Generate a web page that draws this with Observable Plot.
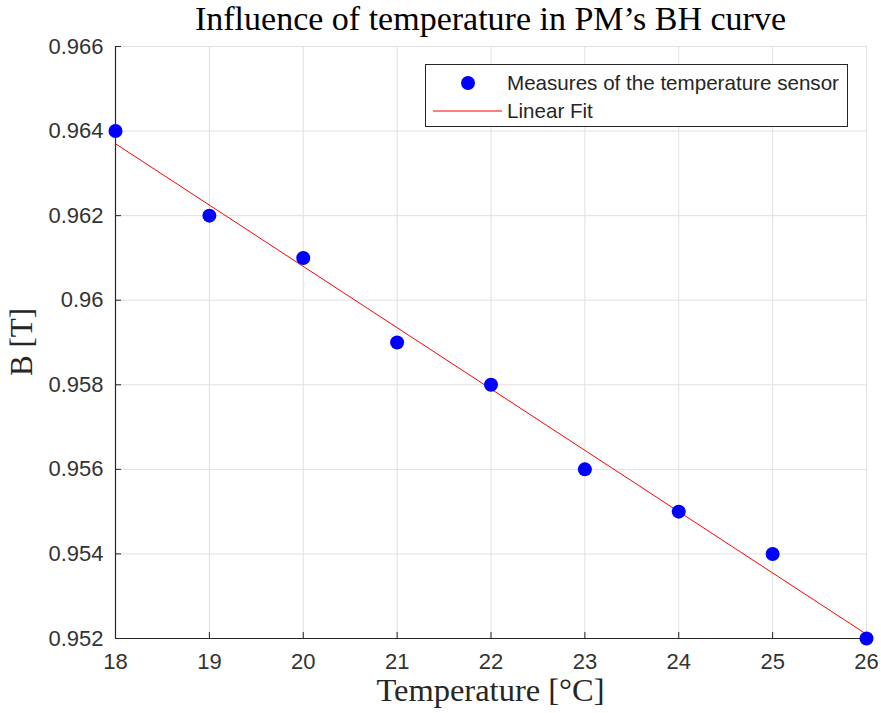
<!DOCTYPE html>
<html><head><meta charset="utf-8">
<script src="https://cdn.jsdelivr.net/npm/d3@7"></script>
<script src="https://cdn.jsdelivr.net/npm/@observablehq/plot@0.6"></script>
<style>
body{margin:0;background:#fff;}
#wrap{position:relative;width:881px;height:713px;overflow:hidden;background:#fff}
#wrap svg.chart{position:absolute;left:0;top:0;overflow:visible}
.title{position:absolute;left:115px;width:751px;top:0px;text-align:center;font-family:"Liberation Serif",serif;font-size:34px;line-height:38px;color:#000;white-space:nowrap}
.xlabel{position:absolute;left:115px;width:751px;top:670px;text-align:center;font-family:"Liberation Serif",serif;font-size:32.5px;line-height:40px;color:#262626;white-space:nowrap}
.ylabel{position:absolute;left:22px;top:342px;transform:translate(-50%,-50%) rotate(-90deg);font-family:"Liberation Serif",serif;font-size:31px;line-height:36px;color:#262626;white-space:nowrap}
.legend{position:absolute;left:425px;top:64px;width:421px;height:61px;border:1px solid #262626;background:#fff;font-family:"Liberation Sans",Arial,sans-serif;font-size:20.6px;color:#262626}
.legend .row{position:absolute;left:0;height:28px;width:100%}
.legend svg{position:absolute;left:0;top:0}
.legend span{position:absolute;left:81px;top:2px;line-height:24px;white-space:nowrap}
</style>
</head><body>
<div id="wrap">
  <div class="title" id="title"></div>
  <div class="xlabel" id="xlabel"></div>
  <div class="ylabel" id="ylabel"></div>
</div>
<script>
// ---- data ----
const temperatures = [18, 19, 20, 21, 22, 23, 24, 25, 26];
const fluxDensity = [0.964, 0.962, 0.961, 0.959, 0.958, 0.956, 0.955, 0.954, 0.952];
const fitTemperatures = [18, 26];
const fitFluxDensity = [0.96370, 0.95210];
const xTicks = [18, 19, 20, 21, 22, 23, 24, 25, 26];
const yTicks = [0.952, 0.954, 0.956, 0.958, 0.96, 0.962, 0.964, 0.966];
const titleText = "Influence of temperature in PM’s BH curve";
const xLabelText = "Temperature [°C]";
const yLabelText = "B [T]";
const seriesNames = ["Measures of the temperature sensor", "Linear Fit"];

const points = temperatures.map((t, i) => ({t, b: fluxDensity[i]}));
const fit = fitTemperatures.map((t, i) => ({t, b: fitFluxDensity[i]}));

const W = 881, H = 713, mL = 115, mR = 15, mT = 46, mB = 75;
const innerW = W - mL - mR, innerH = H - mT - mB;
const axisColor = "#262626", gridColor = "#e0e0e0";

const chart = Plot.plot({
  width: W, height: H,
  marginLeft: mL, marginRight: mR, marginTop: mT, marginBottom: mB,
  style: {fontFamily: "'Liberation Sans', Arial, sans-serif", fontSize: "22px", color: axisColor, background: "transparent", overflow: "visible"},
  x: {domain: [18, 26]},
  y: {domain: [0.952, 0.966]},
  marks: [
    Plot.ruleX(xTicks, {stroke: gridColor, strokeWidth: 1}),
    Plot.ruleY(yTicks, {stroke: gridColor, strokeWidth: 1}),
    Plot.ruleX(xTicks, {stroke: axisColor, insetTop: innerH - 6}),
    Plot.ruleY(yTicks, {stroke: axisColor, insetRight: innerW - 6}),
    Plot.ruleX([18], {stroke: axisColor, strokeWidth: 1.2}),
    Plot.ruleY([0.952], {stroke: axisColor, strokeWidth: 1.2}),
    Plot.axisX(xTicks, {tickSize: 0, tickPadding: 15, label: null, fill: "#333", fontSize: 22}),
    Plot.axisY(yTicks, {tickSize: 0, tickPadding: 12, label: null, fill: "#333", fontSize: 22,
      tickFormat: d => String(+d.toFixed(3))}),
    Plot.line(fit, {x: "t", y: "b", stroke: "#ff0000", strokeWidth: 1}),
    Plot.dot(points, {x: "t", y: "b", r: 7, fill: "#0000ff", stroke: "none"})
  ]
});
chart.classList.add("chart");
const wrap = document.getElementById("wrap");
wrap.insertBefore(chart, wrap.firstChild);

document.getElementById("title").textContent = titleText;
document.getElementById("xlabel").textContent = xLabelText;
document.getElementById("ylabel").textContent = yLabelText;

// legend
const legend = document.createElement("div");
legend.className = "legend";
seriesNames.forEach((name, i) => {
  const row = document.createElement("div");
  row.className = "row";
  row.style.top = (i === 0 ? 4 : 32) + "px";
  const s = d3.create("svg").attr("width", 80).attr("height", 28);
  if (i === 0) s.append("circle").attr("cx", 42).attr("cy", 14).attr("r", 7).attr("fill", "#0000ff");
  else s.append("line").attr("x1", 7).attr("x2", 76).attr("y1", 14).attr("y2", 14).attr("stroke", "#ff0000").attr("stroke-width", 1);
  row.appendChild(s.node());
  const sp = document.createElement("span");
  sp.textContent = name;
  row.appendChild(sp);
  legend.appendChild(row);
});
wrap.appendChild(legend);
</script>
</body></html>
